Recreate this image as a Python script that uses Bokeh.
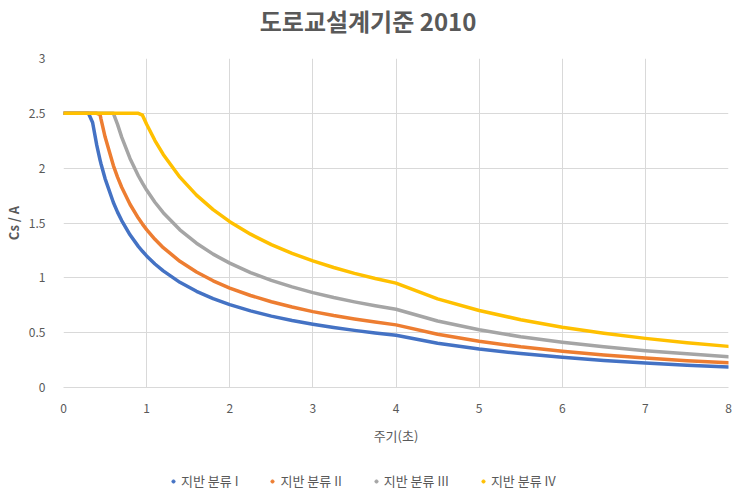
from bokeh.plotting import figure
from bokeh.layouts import column
from bokeh.models import Range1d, FixedTicker, Legend, LegendItem
from bokeh.core.properties import value
from bokeh.embed import file_html
from bokeh.resources import INLINE

# ---- data ----
period = [0, 0.3, 0.35, 0.4, 0.44, 0.45, 0.5, 0.6, 0.65, 0.7, 0.8, 0.9, 0.95, 1.0,
          1.1, 1.2, 1.4, 1.6, 1.8, 2.0, 2.25, 2.5, 2.75, 3.0, 3.25, 3.5, 3.75, 4.0,
          4.5, 5.0, 5.5, 6.0, 6.5, 7.0, 7.5, 8.0]
soil_1 = [2.5, 2.5, 2.416, 2.210, 2.074, 2.043, 1.905, 1.687, 1.599, 1.522, 1.392, 1.287, 1.242, 1.2,
          1.126, 1.063, 0.959, 0.877, 0.811, 0.756, 0.699, 0.651, 0.611, 0.577, 0.547, 0.521, 0.497, 0.476,
          0.404, 0.351, 0.309, 0.275, 0.247, 0.224, 0.204, 0.188]
soil_2 = [2.5, 2.5, 2.5, 2.5, 2.489, 2.452, 2.286, 2.024, 1.919, 1.826, 1.671, 1.545, 1.490, 1.44,
          1.351, 1.275, 1.151, 1.053, 0.973, 0.907, 0.839, 0.782, 0.734, 0.692, 0.656, 0.625, 0.597, 0.571,
          0.485, 0.421, 0.371, 0.330, 0.297, 0.269, 0.245, 0.225]
soil_3 = [2.5, 2.5, 2.5, 2.5, 2.5, 2.5, 2.5, 2.5, 2.399, 2.283, 2.089, 1.931, 1.863, 1.8,
          1.689, 1.594, 1.438, 1.316, 1.216, 1.134, 1.048, 0.977, 0.917, 0.865, 0.820, 0.781, 0.746, 0.714,
          0.606, 0.526, 0.463, 0.413, 0.371, 0.336, 0.307, 0.281]
soil_4 = [2.5, 2.5, 2.5, 2.5, 2.5, 2.5, 2.5, 2.5, 2.5, 2.5, 2.5, 2.5, 2.483, 2.4,
          2.252, 2.125, 1.918, 1.754, 1.622, 1.512, 1.398, 1.303, 1.223, 1.154, 1.094, 1.041, 0.994, 0.952,
          0.808, 0.702, 0.618, 0.550, 0.495, 0.448, 0.409, 0.375]
series_names = ["지반 분류 I", "지반 분류 II", "지반 분류 III", "지반 분류 IV"]
x_ticks = [0, 1, 2, 3, 4, 5, 6, 7, 8]
y_ticks = [0, 0.5, 1, 1.5, 2, 2.5, 3]
y_tick_labels = ["0", "0.5", "1", "1.5", "2", "2.5", "3"]
title_text = "도로교설계기준 2010"
x_label = "주기(초)"
y_label = "Cs / A"

colors = ["#4472C4", "#ED7D31", "#A5A5A5", "#FFC000"]
FONT = "Noto Sans CJK KR"
TXT = "#595959"

# ---- title strip (its frame is aligned with the chart frame, 62..728 px) ----
tt = figure(width=735, height=40, output_backend="svg", toolbar_location=None,
            x_range=Range1d(62, 728), y_range=Range1d(0, 40),
            x_axis_type=None, y_axis_type=None, min_border=0)
tt.outline_line_color = None
tt.grid.visible = False
tt.text(x=[367], y=[20], text=[title_text], text_font=value(FONT), text_font_size="24px",
        text_font_style="bold", text_color=TXT, text_align="center", text_baseline="middle")

# ---- main chart ----
p = figure(width=735, height=407, output_backend="svg", toolbar_location=None,
           x_range=Range1d(0, 8), y_range=Range1d(0, 3),
           min_border_left=62, min_border_right=7, min_border_top=18, min_border_bottom=54)
p.outline_line_color = None
p.background_fill_color = "white"

for ax in (p.xaxis[0], p.yaxis[0]):
    ax.major_tick_line_color = None
    ax.minor_tick_line_color = None
    ax.major_label_text_font = FONT
    ax.major_label_text_font_size = "12px"
    ax.major_label_text_color = TXT
    ax.axis_label_text_font = FONT
    ax.axis_label_text_color = TXT
    ax.axis_label_text_font_size = "13px"

p.xaxis.ticker = FixedTicker(ticks=x_ticks)
p.yaxis.ticker = FixedTicker(ticks=y_ticks)
p.yaxis.major_label_overrides = {t: l for t, l in zip(y_ticks, y_tick_labels)}
p.xaxis.axis_line_color = "#d9d9d9"
p.yaxis.axis_line_color = None
p.xaxis.major_label_standoff = 10
p.yaxis.major_label_standoff = 12
p.xaxis.axis_label = x_label
p.xaxis.axis_label_standoff = 10
p.xaxis.axis_label_text_font_style = "normal"
p.yaxis.axis_label = y_label
p.yaxis.axis_label_text_font_style = "bold"
p.yaxis.axis_label_standoff = 3

p.xgrid.ticker = FixedTicker(ticks=x_ticks)
p.ygrid.ticker = FixedTicker(ticks=y_ticks)
p.grid.grid_line_color = "#d9d9d9"
p.grid.grid_line_width = 1

for ys, c in zip([soil_1, soil_2, soil_3, soil_4], colors):
    p.line(period, ys, line_color=c, line_width=3.5, line_cap="round", line_join="round")

# ---- legend strip below the chart ----
lg = figure(width=735, height=46, output_backend="svg", toolbar_location=None,
            x_range=Range1d(0, 1), y_range=Range1d(0, 1),
            x_axis_type=None, y_axis_type=None, min_border=0)
lg.outline_line_color = None
lg.grid.visible = False
items = []
for c, name in zip(colors, series_names):
    dot = lg.scatter(x=[-5], y=[-5], marker="circle", size=4, fill_color=c, line_color=c)
    items.append(LegendItem(label=name, renderers=[dot]))
legend = Legend(items=items, orientation="horizontal", location=(106, 3),
                label_text_font=FONT, label_text_font_size="13px", label_text_color=TXT,
                glyph_width=8, glyph_height=8, spacing=30, label_standoff=4,
                border_line_color=None, background_fill_alpha=0, padding=2, margin=0)
lg.add_layout(legend, "center")

open("out.html", "w").write(file_html(column(tt, p, lg, spacing=0), INLINE))
